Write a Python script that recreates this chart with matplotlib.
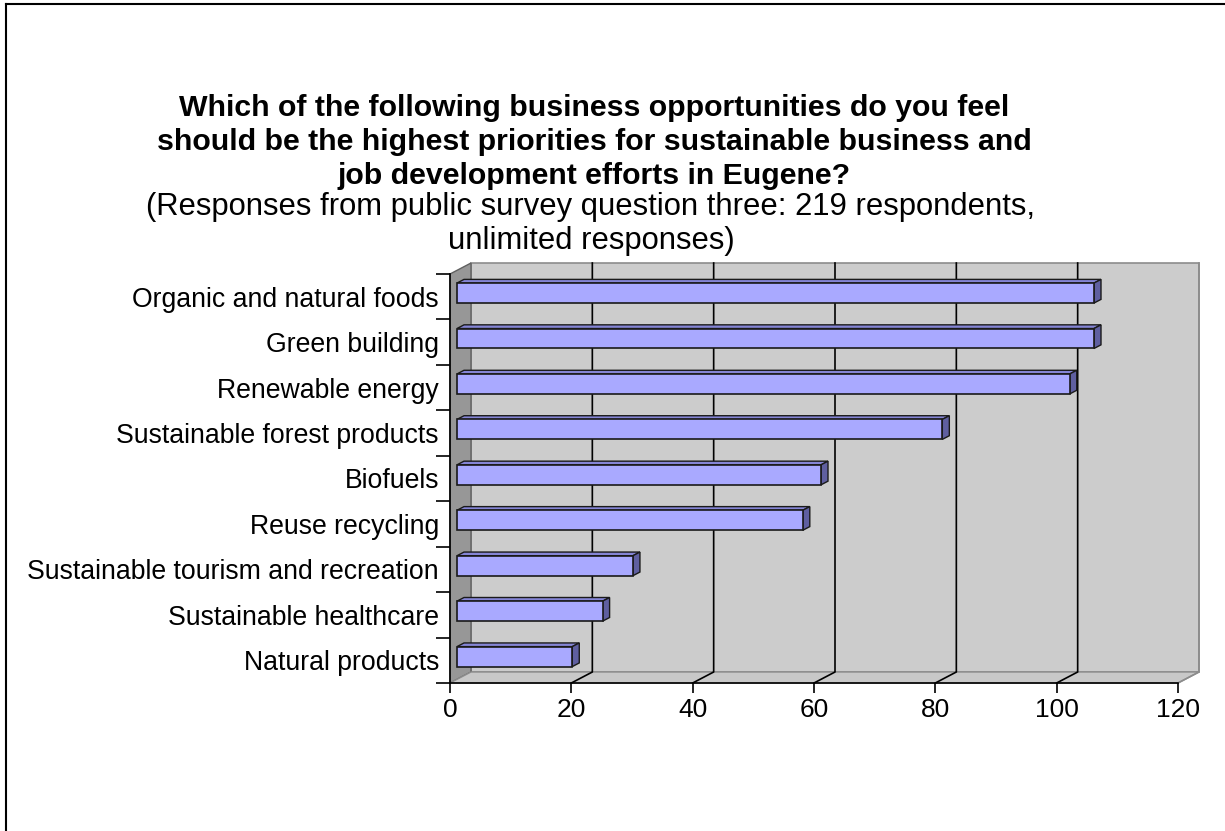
import numpy as np
import matplotlib.pyplot as plt
from matplotlib.patches import Polygon
from matplotlib.lines import Line2D

plt.rcParams['font.family'] = ['Liberation Sans', 'DejaVu Sans']

categories = ['Organic and natural foods', 'Green building', 'Renewable energy',
              'Sustainable forest products', 'Biofuels', 'Reuse recycling',
              'Sustainable tourism and recreation', 'Sustainable healthcare',
              'Natural products']
responses = [105, 105, 101, 80, 60, 57, 29, 24, 19]
x_ticks = [0, 20, 40, 60, 80, 100, 120]

title_lines = ['Which of the following business opportunities do you feel',
               'should be the highest priorities for sustainable business and',
               'job development efforts in Eugene?']
subtitle_lines = ['(Responses from public survey question three: 219 respondents,',
                  'unlimited responses)']

W, H = 1225, 831
fig = plt.figure(figsize=(W / 100, H / 100), dpi=100)
ax = fig.add_axes([450 / W, (H - 683) / H, 728 / W, 409 / H])
n = len(categories)
xmax = x_ticks[-1]
ax.set_xlim(0, xmax)
ax.set_ylim(0, n)
ax.patch.set_visible(False)

# depth of the 3-d box, in data units
DX = 21 / (728 / xmax)
DY = 11 / (409 / n)

# walls and floor
ax.add_patch(Polygon([(DX, DY), (xmax + DX, DY), (xmax + DX, n + DY), (DX, n + DY)],
                     closed=True, fc='#CCCCCC', ec='#8C8C8C', lw=1.2, zorder=0, clip_on=False))
ax.add_patch(Polygon([(0, 0), (DX, DY), (DX, n + DY), (0, n)],
                     closed=True, fc='#979797', ec='#606060', lw=1, zorder=0, clip_on=False))
ax.add_patch(Polygon([(0, 0), (xmax, 0), (xmax + DX, DY), (DX, DY)],
                     closed=True, fc='#C8C8C8', ec='#8C8C8C', lw=1, zorder=0, clip_on=False))

for t in x_ticks[1:]:
    ax.plot([t, t + DX, t + DX], [0, DY, n + DY],
            color='black' if t < xmax else '#8C8C8C', lw=1.2, zorder=1, clip_on=False)

# bars
pos = n - 0.5 - np.arange(n)
bh = 0.44
d = 1 / 3
x0 = DX * d
ax.barh(pos + DY * d, responses, left=x0, height=bh, color='#A9A9FF',
        edgecolor='#1A1A1A', lw=1.2, zorder=3)
for p, v in zip(pos, responses):
    x1 = v + x0
    yb = p + DY * d - bh / 2
    yt = p + DY * d + bh / 2
    ax.add_patch(Polygon([(x0, yt), (x1, yt), (x1 + DX * d, yt + DY * d), (x0 + DX * d, yt + DY * d)],
                         closed=True, fc='#8585D6', ec='#1A1A1A', lw=1, zorder=2, clip_on=False))
    ax.add_patch(Polygon([(x1, yb), (x1, yt), (x1 + DX * d, yt + DY * d), (x1 + DX * d, yb + DY * d)],
                         closed=True, fc='#5F5FA0', ec='#1A1A1A', lw=1, zorder=2, clip_on=False))

# axes
for s in ['top', 'right']:
    ax.spines[s].set_visible(False)
for s in ['left', 'bottom']:
    ax.spines[s].set_color('black')
    ax.spines[s].set_linewidth(1.2)
    ax.spines[s].set_zorder(4)
ax.set_xticks(x_ticks)
ax.tick_params(axis='x', length=7, width=1.2, pad=4, labelsize=19)
ax.set_yticks(np.arange(n + 1))
ax.set_yticklabels([])
ax.set_yticks(pos, minor=True)
ax.set_yticklabels(categories, minor=True)
ax.tick_params(axis='y', which='major', length=10, width=1.2)
ax.tick_params(axis='y', which='minor', length=0, pad=8, labelsize=19.2)

# titles
for i, line in enumerate(title_lines):
    fig.text(594 / W, 1 - (116 + 34 * i) / H, line, ha='center', va='baseline',
             fontsize=21.8, fontweight='bold')
for i, line in enumerate(subtitle_lines):
    fig.text(591 / W, 1 - (215 + 33.5 * i) / H, line, ha='center', va='baseline',
             fontsize=22.3)

# frame of the chart area
fig.add_artist(Line2D([5.5 / W, 5.5 / W], [0, 1 - 4 / H], color='black', lw=1.5))
fig.add_artist(Line2D([5.5 / W, 1], [1 - 4 / H, 1 - 4 / H], color='black', lw=1.5))

fig.savefig('out.png', dpi=100)
